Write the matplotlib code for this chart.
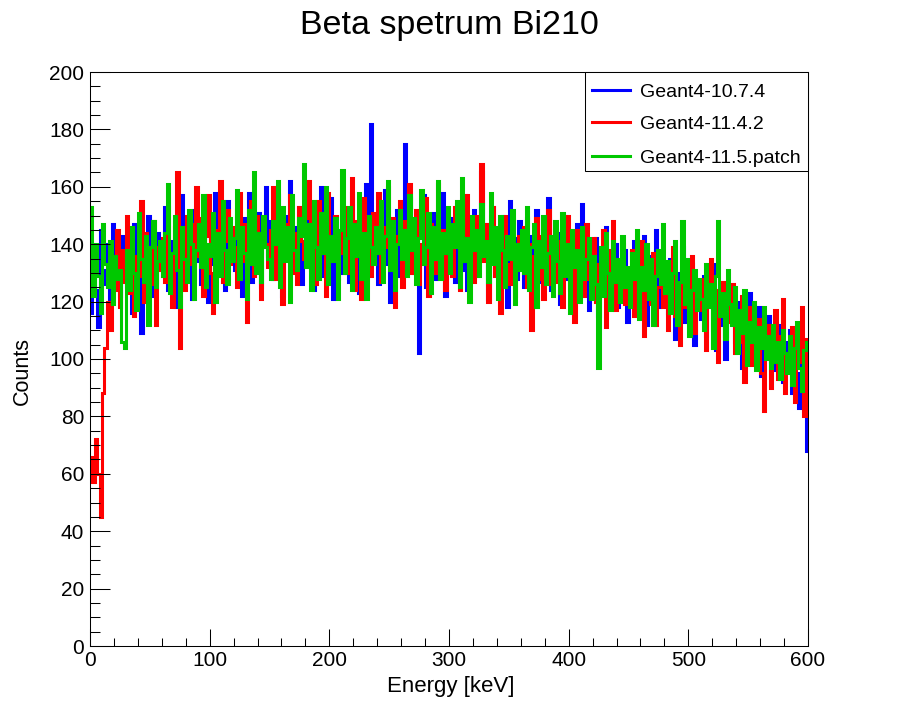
import numpy as np
import matplotlib
matplotlib.use("Agg")
import matplotlib.pyplot as plt
from matplotlib.patches import Rectangle
from matplotlib.lines import Line2D
from matplotlib.ticker import MultipleLocator

plt.rcParams['font.family'] = ['Liberation Sans', 'DejaVu Sans']

# 2 keV bins from 0 to 600 keV
bin_width = 2
e_min, e_max = 0, 600

labels = ["Geant4-10.7.4", "Geant4-11.4.2", "Geant4-11.5.patch"]
colors = ["#0000ff", "#ff0000", "#00c800"]

# counts per bin (15 bins = 30 keV per row)
blue_counts = [
    116, 138, 124, 111, 145, 131, 126, 140, 119, 147, 128, 134, 122, 143, 130,
    125, 139, 116, 147, 128, 135, 109, 142, 131, 150, 122, 137, 127, 144, 133,
    129, 153, 124, 141, 136, 118, 148, 132, 157, 127, 139, 145, 121, 152, 134,
    142, 126, 150, 137, 120, 146, 133, 158, 129, 140, 147, 124, 155, 136, 143,
    131, 152, 138, 122, 149, 141, 158, 127, 145, 134, 151, 125, 143, 160, 136,
    148, 128, 144, 157, 135, 122, 150, 139, 162, 131, 146, 137, 153, 126, 141,
    155, 133, 147, 124, 152, 140, 160, 129, 145, 138, 156, 121, 149, 135, 143,
    130, 151, 144, 127, 158, 136, 147, 123, 153, 140, 161, 132, 182, 138, 145,
    126, 150, 141, 159, 133, 120, 147, 137, 152, 129, 144, 175, 134, 156, 140,
    130, 148, 102, 139, 157, 125, 144, 136, 151, 128, 146, 133, 158, 122, 141,
    149, 135, 127, 154, 140, 131, 157, 124, 146, 138, 152, 129, 143, 165, 136,
    147, 121, 140, 153, 132, 145, 126, 150, 137, 118, 155, 134, 142, 128, 148,
    136, 125, 149, 131, 143, 120, 152, 138, 127, 145, 133, 156, 124, 140, 130,
    144, 119, 137, 150, 128, 141, 133, 122, 147, 135, 154, 126, 139, 117, 134,
    128, 142, 115, 137, 131, 146, 121, 135, 127, 140, 118, 133, 124, 138, 113,
    130, 122, 141, 117, 134, 126, 143, 112, 129, 136, 120, 145, 118, 131, 124,
    127, 116, 135, 121, 107, 130, 124, 139, 113, 128, 119, 133, 105, 122, 126,
    114, 129, 108, 124, 118, 133, 103, 121, 112, 127, 100, 119, 115, 125, 106,
    111, 120, 97, 116, 105, 123, 101, 113, 108, 118, 94, 110, 104, 115, 99,
    107, 96, 112, 101, 92, 106, 99, 110, 88, 103, 95, 83, 100, 82, 68,
]

red_counts = [
    66, 57, 72, 60, 45, 88, 104, 120, 110, 135, 124, 145, 118, 138, 127,
    150, 123, 141, 115, 136, 129, 155, 120, 144, 133, 126, 148, 112, 139, 131,
    142, 127, 153, 135, 118, 146, 165, 104, 138, 124, 150, 133, 147, 128, 160,
    136, 149, 122, 143, 157, 130, 116, 145, 138, 162, 127, 141, 152, 133, 146,
    139, 125, 158, 134, 147, 113, 143, 155, 129, 150, 137, 121, 148, 140, 132,
    145, 160, 128, 151, 136, 119, 147, 138, 157, 130, 144, 126, 153, 141, 135,
    149, 162, 131, 143, 126, 155, 139, 146, 122, 158, 134, 141, 150, 128, 145,
    137, 153, 130, 145, 163, 124, 148, 140, 121, 156, 135, 143, 129, 151, 138,
    158, 127, 146, 139, 160, 132, 149, 118, 143, 155, 125, 148, 136, 161, 130,
    144, 152, 126, 140, 133, 156, 122, 147, 138, 130, 161, 135, 145, 124, 150,
    139, 129, 153, 142, 124, 148, 136, 157, 131, 145, 127, 150, 138, 168, 134,
    147, 120, 141, 153, 129, 145, 116, 139, 150, 133, 126, 148, 122, 137, 143,
    131, 146, 125, 140, 110, 136, 149, 128, 143, 121, 138, 152, 126, 134, 145,
    127, 141, 118, 136, 150, 124, 132, 113, 145, 130, 139, 122, 147, 128, 135,
    142, 120, 133, 126, 145, 111, 138, 129, 148, 117, 135, 124, 140, 119, 131,
    127, 138, 115, 132, 121, 141, 108, 128, 134, 119, 137, 112, 125, 130, 118,
    133, 110, 126, 139, 115, 122, 105, 131, 118, 127, 113, 136, 109, 124, 120,
    117, 128, 103, 121, 135, 110, 124, 99, 116, 127, 108, 119, 113, 126, 102,
    115, 106, 122, 92, 111, 118, 98, 109, 101, 114, 95, 82, 107, 112, 90,
    104, 117, 93, 108, 121, 88, 102, 96, 111, 85, 105, 99, 118, 80, 107,
]

green_counts = [
    153, 122, 140, 129, 116, 147, 133, 125, 141, 119, 136, 128, 131, 106, 104,
    138, 124, 146, 130, 117, 151, 135, 127, 143, 112, 139, 148, 125, 134, 141,
    129, 144, 161, 123, 137, 150, 131, 118, 146, 135, 127, 152, 140, 121, 138,
    147, 132, 157, 125, 140, 136, 151, 120, 144, 129, 155, 138, 126, 149, 134,
    142, 159, 128, 146, 137, 121, 152, 133, 165, 130, 144, 127, 150, 139, 135,
    128, 148, 140, 162, 125, 153, 134, 146, 120, 157, 138, 131, 149, 143, 168,
    132, 147, 124, 155, 139, 128, 151, 137, 160, 126, 143, 134, 149, 121, 145,
    166, 130, 142, 153, 124, 147, 136, 158, 128, 144, 121, 150, 139, 133, 146,
    137, 155, 127, 143, 162, 131, 148, 124, 140, 152, 135, 145, 129, 157, 138,
    149, 126, 142, 159, 133, 139, 151, 123, 146, 135, 162, 128, 144, 137, 153,
    130, 147, 139, 155, 125, 163, 134, 142, 120, 150, 138, 145, 129, 154, 136,
    141, 127, 158, 133, 146, 121, 150, 138, 125, 143, 135, 152, 119, 140, 131,
    145, 130, 153, 124, 139, 147, 118, 141, 132, 150, 126, 137, 143, 122, 148,
    134, 123, 151, 129, 140, 116, 145, 132, 138, 120, 146, 128, 135, 142, 121,
    136, 126, 97, 139, 122, 144, 130, 117, 141, 127, 135, 120, 143, 125, 132,
    118, 137, 128, 145, 114, 132, 124, 140, 121, 135, 112, 129, 138, 126, 147,
    123, 134, 116, 130, 141, 112, 127, 148, 119, 135, 108, 124, 131, 117, 128,
    121, 110, 133, 118, 126, 104, 129, 148, 115, 123, 107, 131, 119, 112, 125,
    102, 117, 109, 124, 98, 113, 106, 120, 96, 111, 104, 118, 100, 108, 97,
    112, 99, 106, 93, 110, 102, 95, 108, 91, 104, 113, 97, 89, 103, 106,
]

edges = np.arange(e_min, e_max + bin_width, bin_width)

W, H = 898, 718
fig = plt.figure(figsize=(W / 100, H / 100), dpi=100)
ax = fig.add_axes([90 / W, 1 - 646 / H, 718 / W, 574 / H])

for counts, col in zip([blue_counts, red_counts, green_counts], colors):
    ax.stairs(counts, edges, color=col, lw=2.2, baseline=None)

ax.set_xlim(e_min, e_max)
ax.set_ylim(0, 200)
ax.xaxis.set_major_locator(MultipleLocator(100))
ax.xaxis.set_minor_locator(MultipleLocator(20))
ax.yaxis.set_major_locator(MultipleLocator(20))
ax.yaxis.set_minor_locator(MultipleLocator(5))
ax.tick_params(axis='both', which='both', direction='in', width=0.75,
               top=False, right=False, labelsize=15)
ax.tick_params(axis='x', which='major', length=12.2, pad=3.5)
ax.tick_params(axis='x', which='minor', length=6.1)
ax.tick_params(axis='y', which='major', length=14.4, pad=4.3)
ax.tick_params(axis='y', which='minor', length=7.2)
for sp in ax.spines.values():
    sp.set_linewidth(0.75)

# titles placed like the ROOT canvas
fig.text(0.5, 1 - 34 / H, "Beta spetrum Bi210", fontsize=24.5,
         ha='center', va='baseline')
fig.text(451 / W, 1 - 692 / H, "Energy [keV]", fontsize=16,
         ha='center', va='baseline')
fig.text(22 / W, 1 - 371 / H, "Counts", fontsize=15.5, rotation=90,
         ha='center', va='center')

# legend box
fig.patches.append(Rectangle((585 / W, 1 - 171 / H), 223 / W, 99 / H,
                             transform=fig.transFigure, facecolor='white',
                             edgecolor='black', lw=0.75, zorder=5))
for lab, col, row in zip(labels, colors, [90, 122, 156]):
    yy = 1 - row / H
    fig.lines.append(Line2D([592 / W, 630 / W], [yy, yy], color=col, lw=2.2,
                            transform=fig.transFigure, zorder=6))
    fig.text(640 / W, 1 - (row + 6.7) / H, lab, fontsize=14,
             ha='left', va='baseline', zorder=6)

fig.savefig("out.png", dpi=100)
